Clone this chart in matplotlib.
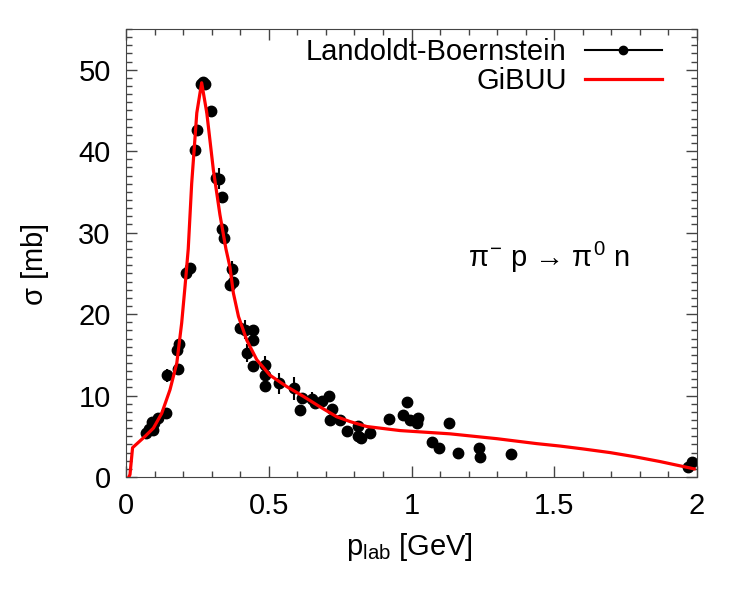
import numpy as np
import matplotlib
matplotlib.use('Agg')
import matplotlib.pyplot as plt
from matplotlib.lines import Line2D
from matplotlib.ticker import MultipleLocator

plt.rcParams['font.family'] = ['Liberation Sans', 'DejaVu Sans']
plt.rcParams['mathtext.fontset'] = 'custom'
plt.rcParams['mathtext.rm'] = 'Liberation Sans'
plt.rcParams['mathtext.it'] = 'Liberation Sans'

# Landoldt-Boernstein data: p_lab [GeV], sigma [mb], error [mb]
p_data = [0.069, 0.082, 0.090, 0.096, 0.099, 0.111, 0.140, 0.144, 0.178, 0.183,
          0.187, 0.209, 0.224, 0.242, 0.250, 0.262, 0.271, 0.277, 0.297, 0.315,
          0.327, 0.335, 0.337, 0.344, 0.370, 0.374, 0.364, 0.399, 0.417, 0.444,
          0.444, 0.425, 0.446, 0.487, 0.487, 0.487, 0.537, 0.588, 0.609, 0.615,
          0.650, 0.662, 0.685, 0.712, 0.720, 0.714, 0.750, 0.773, 0.814, 0.814,
          0.823, 0.855, 0.922, 0.969, 0.985, 0.995, 1.020, 1.024, 1.071, 1.097,
          1.131, 1.164, 1.237, 1.240, 1.347, 1.967, 1.981]
sig_data = [5.4, 5.9, 6.7, 5.8, 6.6, 7.2, 7.8, 12.5, 15.6, 13.3,
            16.3, 25.1, 25.6, 40.2, 42.6, 48.2, 48.5, 48.2, 44.9, 36.7,
            36.6, 34.4, 30.5, 29.3, 25.5, 23.9, 23.6, 18.3, 18.1, 18.1,
            16.8, 15.2, 13.6, 13.8, 12.5, 11.2, 11.5, 10.9, 8.2, 9.7,
            9.6, 9.1, 9.3, 9.9, 8.3, 7.0, 7.0, 5.6, 6.2, 5.0,
            4.8, 5.4, 7.1, 7.6, 9.2, 7.0, 6.6, 7.2, 4.3, 3.6,
            6.6, 2.9, 3.6, 2.5, 2.8, 1.2, 1.8]
err_data = [0.3, 0.3, 0.3, 0.3, 0.3, 0.3, 0.3, 0.8, 0.4, 0.4,
            0.4, 0.6, 0.6, 0.5, 0.5, 0.5, 0.5, 0.5, 0.5, 0.5,
            1.3, 0.5, 0.5, 0.5, 1.0, 0.5, 0.5, 0.5, 1.2, 0.6,
            0.6, 1.1, 0.6, 1.0, 0.5, 0.8, 1.3, 1.4, 0.4, 0.5,
            0.8, 0.5, 0.5, 0.5, 0.4, 0.3, 0.3, 0.3, 0.3, 0.3,
            0.3, 0.3, 0.3, 0.3, 0.3, 0.3, 0.3, 0.3, 0.3, 0.3,
            0.3, 0.3, 0.3, 0.3, 0.3, 0.3, 0.3]

# GiBUU curve
p_gibuu = [0.010, 0.014, 0.023, 0.067, 0.096, 0.125, 0.154, 0.178, 0.195, 0.207,
           0.218, 0.230, 0.248, 0.265, 0.283, 0.306, 0.329, 0.350, 0.364, 0.376,
           0.394, 0.423, 0.458, 0.504, 0.563, 0.621, 0.680, 0.738, 0.785, 0.843,
           0.960, 1.135, 1.300, 1.438, 1.520, 1.600, 1.695, 1.780, 1.870, 1.990]
sig_gibuu = [0.0, 0.3, 3.6, 5.0, 6.0, 7.8, 10.7, 14.0, 18.9, 23.5,
             28.0, 36.0, 44.7, 48.4, 44.7, 37.7, 32.2, 28.0, 25.8, 22.6,
             19.7, 16.8, 14.4, 12.5, 11.1, 9.9, 8.6, 7.4, 6.8, 6.2,
             5.7, 5.3, 4.7, 4.1, 3.8, 3.45, 3.0, 2.5, 1.9, 1.0]

fs = 21
fig = plt.figure(figsize=(7.47, 5.98), dpi=100)
ax = fig.add_axes([126/747, 1-477/598, (697-126)/747, (477-29)/598])

ax.errorbar(p_data, sig_data, yerr=err_data, fmt='o', color='black',
            markersize=7.5, elinewidth=1.5, capsize=0, zorder=2)
ax.plot(p_gibuu, sig_gibuu, color='red', lw=2.3, zorder=3)

ax.set_xlim(0, 2)
ax.set_ylim(0, 55)
ax.xaxis.set_major_locator(MultipleLocator(0.5))
ax.xaxis.set_minor_locator(MultipleLocator(0.1))
ax.yaxis.set_major_locator(MultipleLocator(10))
ax.yaxis.set_minor_locator(MultipleLocator(1))
ax.xaxis.set_major_formatter(plt.FuncFormatter(lambda v, p: '%g' % v))
ax.tick_params(which='both', direction='in', top=True, right=True,
               labelsize=fs, color='#444444')
ax.tick_params(which='major', length=8, width=1)
ax.tick_params(axis='x', which='major', pad=11)
ax.tick_params(axis='y', which='major', pad=11)
ax.tick_params(which='minor', length=4, width=1)
for s in ax.spines.values():
    s.set_color('#444444')

ax.set_xlabel(r'p$_{\rm lab}$ [GeV]', fontsize=fs)
ax.set_ylabel(r'$\sigma$ [mb]', fontsize=fs)
ax.xaxis.set_label_coords(0.497, -0.12)
ax.yaxis.set_label_coords(-0.131, 0.473)

ax.text(1.198, 25.8, r'$\pi^{-}$ p → $\pi^{0}$ n', fontsize=fs, va='baseline')

handles = [Line2D([], [], color='black', lw=1.5, marker='o', markersize=6),
           Line2D([], [], color='red', lw=2.3)]
ax.legend(handles, ['Landoldt-Boernstein', 'GiBUU'], loc='upper right',
          bbox_to_anchor=(662/747, 1-38/598), bbox_transform=fig.transFigure,
          frameon=False, markerfirst=False, numpoints=1, fontsize=fs,
          handlelength=2.65, borderaxespad=0, borderpad=0, labelspacing=0.05,
          handletextpad=0.62)

fig.savefig('out.png', dpi=100)
